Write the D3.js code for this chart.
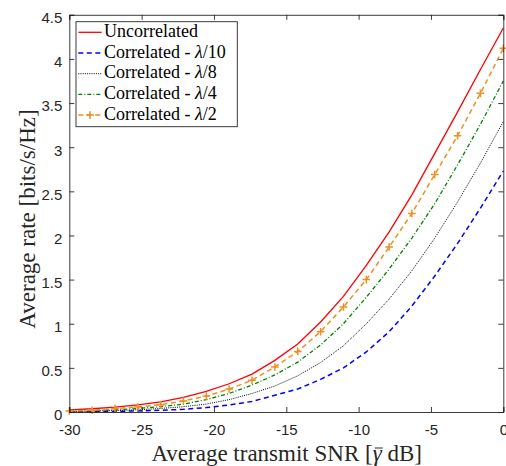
<!doctype html>
<html>
<head>
<meta charset="utf-8">
<script src="https://d3js.org/d3.v7.min.js"></script>
<style>
  body { margin: 0; background: #fff; }
  .tick text { font-family: "Liberation Sans", Arial, sans-serif; font-size: 15px; fill: #262626; }
  .title { font-family: "Liberation Serif", "Times New Roman", serif; font-size: 23px; fill: #262626; }
  .leg text { font-family: "Liberation Serif", "Times New Roman", serif; font-size: 18px; fill: #000; }
</style>
</head>
<body>
<svg width="506" height="466"></svg>
<script>
// x values (dB), 20 points
var snrDb = [-30, -28.42, -26.84, -25.26, -23.68, -22.11, -20.53, -18.95, -17.37, -15.79,
             -14.21, -12.63, -11.05, -9.47, -7.89, -6.32, -4.74, -3.16, -1.58, 0];

var uncorr = [0.025, 0.037, 0.055, 0.08, 0.115, 0.165, 0.235, 0.32, 0.43, 0.585,
              0.77, 1.02, 1.31, 1.66, 2.04, 2.46, 2.93, 3.40, 3.88, 4.35];
var corr10 = [0.002, 0.004, 0.007, 0.012, 0.02, 0.03, 0.05, 0.08, 0.12, 0.19,
              0.26, 0.37, 0.50, 0.68, 0.91, 1.20, 1.54, 1.91, 2.31, 2.73];
var corr8  = [0.005, 0.01, 0.016, 0.025, 0.04, 0.06, 0.09, 0.14, 0.21, 0.295,
              0.41, 0.56, 0.75, 1.0, 1.28, 1.60, 1.97, 2.38, 2.82, 3.29];
var corr4  = [0.008, 0.015, 0.025, 0.04, 0.06, 0.09, 0.14, 0.21, 0.305, 0.42,
              0.565, 0.76, 1.0, 1.30, 1.62, 1.97, 2.36, 2.80, 3.26, 3.75];
var corr2  = [0.012, 0.02, 0.04, 0.057, 0.083, 0.125, 0.18, 0.26, 0.36, 0.51,
              0.685, 0.91, 1.19, 1.50, 1.87, 2.25, 2.69, 3.13, 3.61, 4.12];

var xTicks = [-30, -25, -20, -15, -10, -5, 0];
var yTicks = [0, 0.5, 1, 1.5, 2, 2.5, 3, 3.5, 4, 4.5];

var series = [
  {name: "Uncorrelated", lam: null, values: uncorr, color: "#ff0000", dash: null, width: 1.3},
  {name: "Correlated - ", lam: "/10", values: corr10, color: "#0000ff", dash: "5,3.5", width: 1.5},
  {name: "Correlated - ", lam: "/8", values: corr8, color: "#000000", dash: "1,1.2", width: 1},
  {name: "Correlated - ", lam: "/4", values: corr4, color: "#008000", dash: "4,2,1,2", width: 1.3},
  {name: "Correlated - ", lam: "/2", values: corr2, color: "#ec9020", dash: "5,3.5", width: 1.5, marker: true}
];

drawChart();

function drawChart()
{
  var svg = d3.select("svg");
  var mLeft = 69.3, mRight = 503.3, mTop = 14.8, mBottom = 412;

  var x = d3.scaleLinear().domain([-30, 0]).range([mLeft, mRight]);
  var y = d3.scaleLinear().domain([0, 4.5]).range([mBottom, mTop]);

  // curves
  var line = d3.line()
    .x(function(d, i) { return x(snrDb[i]); })
    .y(function(d) { return y(d); });

  var plot = svg.append("g");
  series.forEach(function(s) {
    plot.append("path")
      .attr("d", line(s.values))
      .attr("fill", "none")
      .attr("stroke", s.color)
      .attr("stroke-width", s.width)
      .attr("stroke-dasharray", s.dash);
    if (s.marker) {
      plot.selectAll(null)
        .data(s.values)
        .enter().append("path")
        .attr("d", function(d, i) {
          var cx = x(snrDb[i]), cy = y(d);
          return "M" + (cx - 3.8) + "," + cy + "H" + (cx + 3.8) + "M" + cx + "," + (cy - 3.8) + "V" + (cy + 3.8);
        })
        .attr("stroke", s.color)
        .attr("stroke-width", 1.5);
    }
  });

  // axes (ticks inside, mirrored on top and right)
  var axColor = "#262626";
  var fmt = function(d) { return String(d); };
  var gx = svg.append("g").attr("transform", "translate(0," + mBottom + ")")
    .call(d3.axisBottom(x).tickValues(xTicks).tickSize(-5).tickPadding(15).tickFormat(fmt));
  var gy = svg.append("g").attr("transform", "translate(" + mLeft + ",0)")
    .call(d3.axisLeft(y).tickValues(yTicks).tickSize(-5).tickPadding(7).tickFormat(fmt));
  var gt = svg.append("g").attr("transform", "translate(0," + mTop + ")")
    .call(d3.axisTop(x).tickValues(xTicks).tickSize(-5).tickFormat(""));
  var gr = svg.append("g").attr("transform", "translate(" + mRight + ",0)")
    .call(d3.axisRight(y).tickValues(yTicks).tickSize(-5).tickFormat(""));

  gy.selectAll(".tick text").attr("dy", "0.52em");
  gx.selectAll(".tick text").attr("dy", "0.5em");
  [gx, gy, gt, gr].forEach(function(g) {
    g.selectAll(".domain").attr("stroke", axColor).attr("stroke-width", 0.9);
    g.selectAll(".tick line").attr("stroke", axColor).attr("stroke-width", 0.9);
  });

  // axis titles
  var pre = "Average transmit SNR [";
  var xt = svg.append("text").attr("class", "title")
    .attr("x", 286.7).attr("y", 460.5).attr("text-anchor", "middle");
  xt.append("tspan").text(pre);
  xt.append("tspan").attr("font-style", "italic").text("γ");
  xt.append("tspan").text(" dB]");
  // bar over gamma
  var n = xt.node();
  var p0 = n.getStartPositionOfChar(pre.length), p1 = n.getEndPositionOfChar(pre.length);
  svg.append("line")
    .attr("x1", p0.x + 2).attr("x2", p1.x + 1)
    .attr("y1", 460.5 - 12.5).attr("y2", 460.5 - 12.5)
    .attr("stroke", axColor).attr("stroke-width", 1);

  svg.append("text").attr("class", "title")
    .attr("transform", "translate(35,219) rotate(-90)")
    .attr("text-anchor", "middle")
    .text("Average rate [bits/s/Hz]");

  // legend
  var leg = svg.append("g").attr("class", "leg");
  leg.append("rect")
    .attr("x", 76).attr("y", 21.7).attr("width", 161.3).attr("height", 105)
    .attr("fill", "#fff").attr("stroke", axColor).attr("stroke-width", 0.9);

  series.forEach(function(s, i) {
    var cy = 32.3 + i * 20.7;
    leg.append("line")
      .attr("x1", 78.3).attr("x2", 101.7).attr("y1", cy).attr("y2", cy)
      .attr("stroke", s.color).attr("stroke-width", s.width)
      .attr("stroke-dasharray", s.dash);
    if (s.marker) {
      leg.append("path")
        .attr("d", "M86.2," + cy + "H93.8M90," + (cy - 3.8) + "V" + (cy + 3.8))
        .attr("stroke", s.color).attr("stroke-width", 1.5);
    }
    var t = leg.append("text").attr("x", 104).attr("y", cy + 4.6);
    t.append("tspan").text(s.name);
    if (s.lam) {
      t.append("tspan").attr("font-style", "italic").text("λ");
      t.append("tspan").text(s.lam);
    }
  });
}
</script>
</body>
</html>
